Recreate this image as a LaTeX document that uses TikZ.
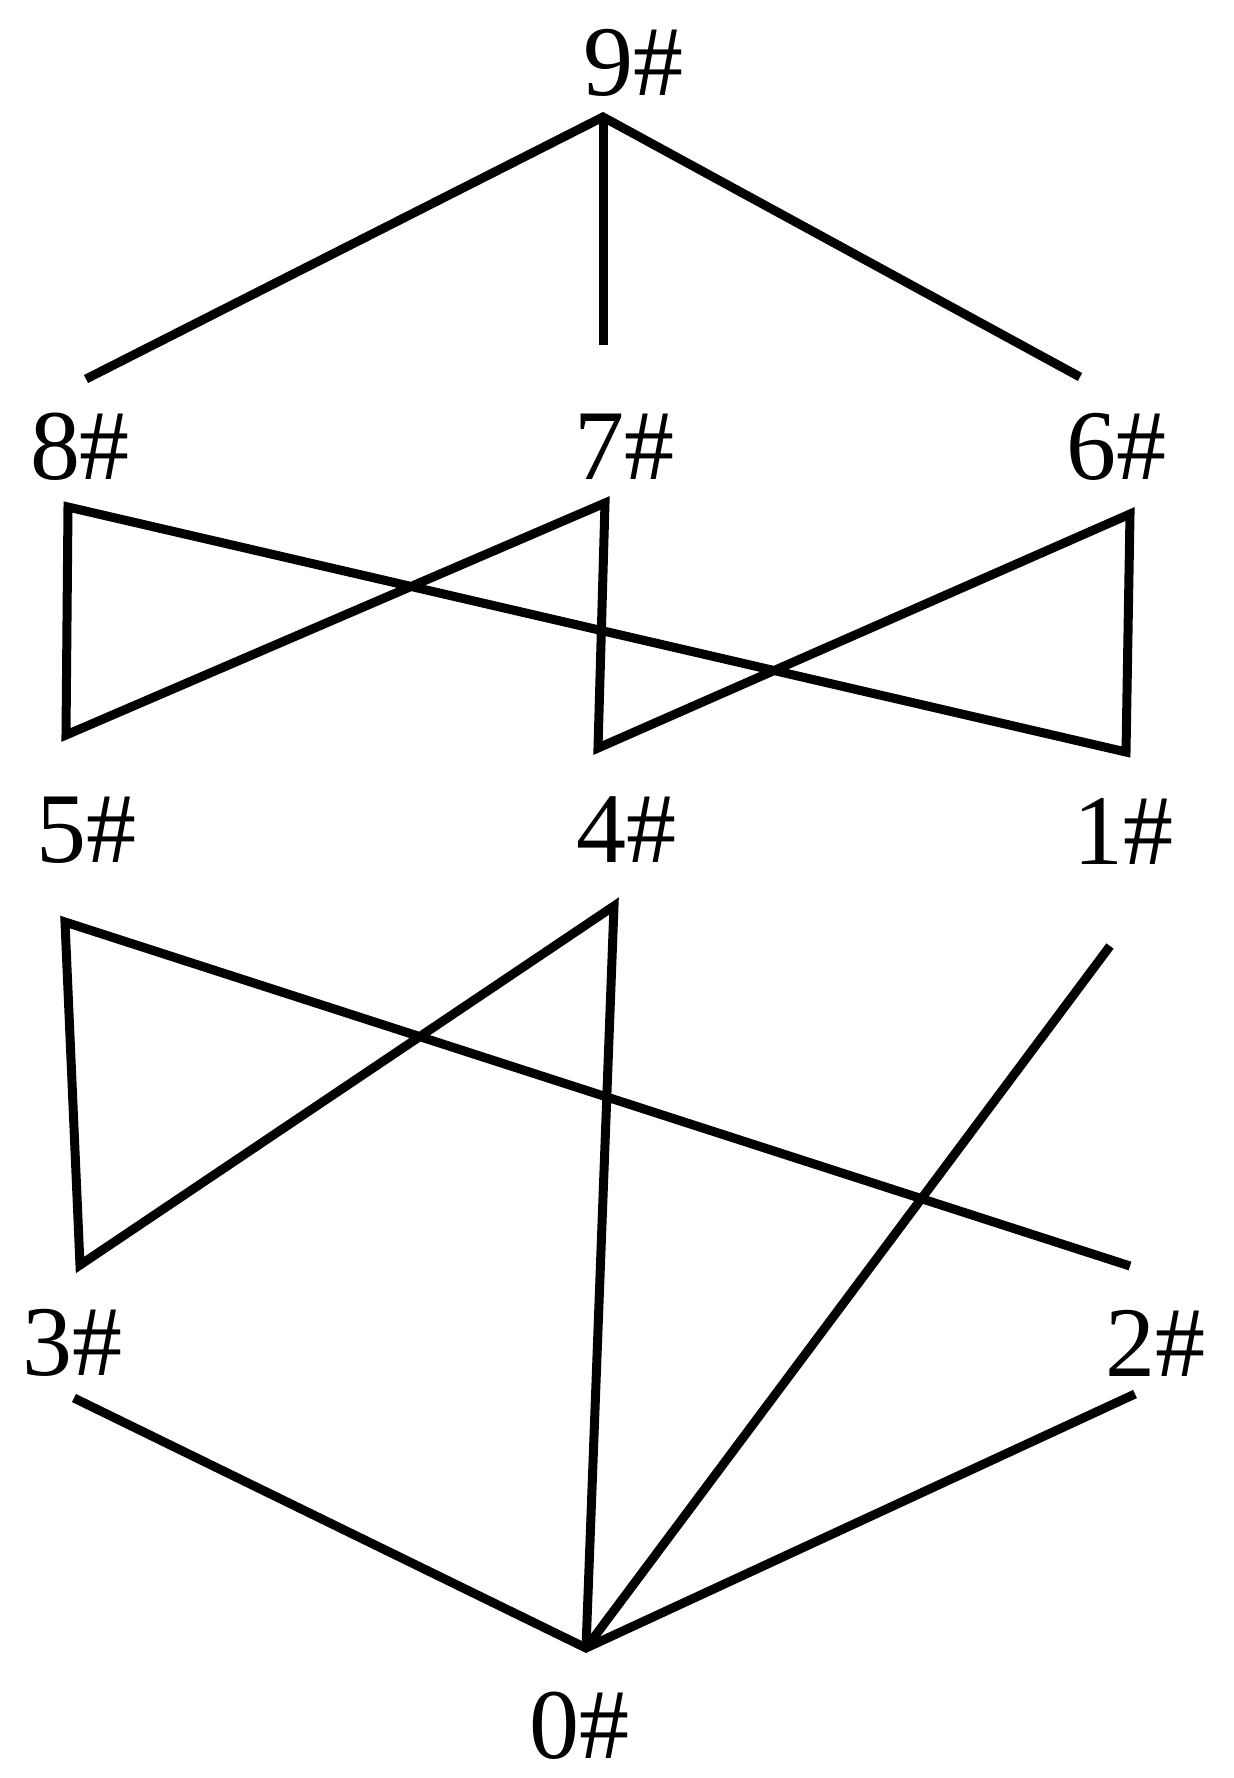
\documentclass[tikz,border=0pt]{standalone}
\usepackage{fontspec}
\setmainfont{Liberation Serif}

\begin{document}
\begin{tikzpicture}[x=0.5pt,y=-0.5pt,
    lbl/.style={inner sep=0pt,anchor=base,font=\fontsize{50}{60}\selectfont},
    edge/.style={line width=4.5pt}]
  \useasboundingbox (0,0) rectangle (1234,1778);

  \node[lbl] (n9) at (633,95) {9\#};
  \node[lbl] (n8) at (80,479) {8\#};
  \node[lbl] (n7) at (624,479) {7\#};
  \node[lbl] (n6) at (1116,479) {6\#};
  \node[lbl] (n5) at (86,862) {5\#};
  \node[lbl] (n4) at (626,862) {4\#};
  \node[lbl] (n1) at (1123,864) {1\#};
  \node[lbl] (n3) at (73,1375) {3\#};
  \node[lbl] (n2) at (1155,1376) {2\#};
  \node[lbl] (n0) at (579,1758) {0\#};

  \coordinate (n9b) at (603,117);
  \coordinate (n8t) at (86,379);
  \coordinate (n8b) at (68,507);
  \coordinate (n7t) at (603,345);
  \coordinate (n7b) at (605,503);
  \coordinate (n6t) at (1080,377);
  \coordinate (n6b) at (1130,514);
  \coordinate (n5t) at (66,735);
  \coordinate (n5b) at (65,922);
  \coordinate (n4t) at (598,748);
  \coordinate (n4b) at (614,906);
  \coordinate (n1t) at (1126,752);
  \coordinate (n1b) at (1110,946);
  \coordinate (n3t) at (80,1265);
  \coordinate (n3b) at (74,1398);
  \coordinate (n2t) at (1130,1266);
  \coordinate (n2b) at (1135,1394);
  \coordinate (n0t) at (586,1648);

  \draw[edge] (n8t) -- (n9b) -- (n6t);
  \draw[edge] (n9b) -- (n7t);

  \draw[edge] (n5t) -- (n8b) -- (n1t) -- (n6b) -- (n4t) -- (n7b) -- cycle;

  \draw[edge] (n2t) -- (n5b) -- (n3t) -- (n4b) -- (n0t);
  \draw[edge] (n3b) -- (n0t) -- (n2b);
  \draw[edge] (n1b) -- (n0t);
\end{tikzpicture}
\end{document}
